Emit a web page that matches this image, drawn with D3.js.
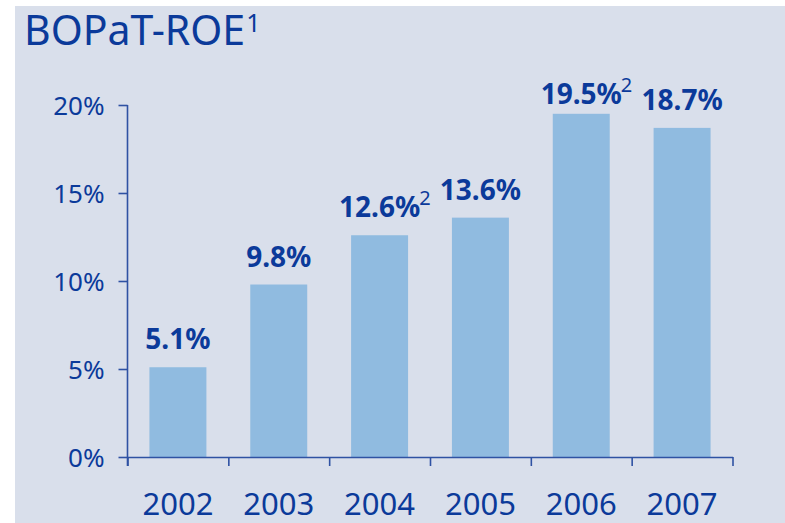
<!DOCTYPE html>
<html>
<head>
<meta charset="utf-8">
<script src="https://cdn.jsdelivr.net/npm/d3@7"></script>
<style>
  html, body { margin: 0; padding: 0; background: #fff; }
  svg { display: block; font-family: "Noto Sans", "Open Sans", sans-serif; }
</style>
</head>
<body>
<svg id="chart" width="785" height="523"></svg>
<script>
// chart data
const years = ["2002", "2003", "2004", "2005", "2006", "2007"];
const roe = [5.1, 9.8, 12.6, 13.6, 19.5, 18.7];
const footnotes = ["", "", "2", "", "2", ""];
const yTicks = [0, 5, 10, 15, 20];

const textColor = "#0b3a9a";
const axisColor = "#2f52a3";
const barColor = "#90bbe0";

const svg = d3.select("#chart");

// light blue-grey panel
svg.append("rect")
  .attr("x", 15).attr("y", 6)
  .attr("width", 770).attr("height", 517)
  .attr("fill", "#d9dfeb");

// title with footnote marker
const title = svg.append("text")
  .attr("x", 24).attr("y", 45)
  .attr("fill", textColor)
  .style("font-size", "41px");
title.append("tspan").text("BOPaT-ROE");
title.append("tspan").attr("dx", 1).attr("dy", -13).style("font-size", "25px").text("1");

// scales
const x = d3.scaleBand().domain(years).range([127.5, 732.5]).paddingInner(0.435).paddingOuter(0.2175);
const xEdge = d3.scaleLinear().domain([0, years.length]).range([127.5, 732.5]);
const y = d3.scaleLinear().domain([0, 20]).range([457, 105]);

// bars
svg.selectAll("rect.bar")
  .data(years)
  .join("rect")
  .attr("class", "bar")
  .attr("x", d => x(d))
  .attr("y", (d, i) => y(roe[i]))
  .attr("width", x.bandwidth())
  .attr("height", (d, i) => y(0) - y(roe[i]))
  .attr("fill", barColor);

// y axis
const yAxis = svg.append("g")
  .attr("transform", "translate(127.5,0)")
  .call(d3.axisLeft(y).tickValues(yTicks).tickSize(9).tickPadding(14).tickFormat(d => d + "%"));
yAxis.select(".domain").remove();
yAxis.selectAll("line").attr("stroke", axisColor).attr("stroke-width", 1.6);
yAxis.selectAll("text")
  .attr("fill", textColor)
  .style("font-size", "26px")
  .style("font-family", "'Noto Sans', sans-serif")
  .attr("dy", "0.36em");
yAxis.append("line")
  .attr("x1", 0).attr("x2", 0)
  .attr("y1", y(20)).attr("y2", y(0) + 9)
  .attr("stroke", axisColor).attr("stroke-width", 1.6);

// x axis with ticks between the bars
const xAxis = svg.append("g")
  .attr("transform", `translate(0,${y(0)})`)
  .call(d3.axisBottom(xEdge).tickValues(d3.range(years.length + 1)).tickSize(9).tickSizeOuter(0).tickFormat(""));
xAxis.select(".domain").attr("stroke", axisColor).attr("stroke-width", 1.6);
xAxis.selectAll("line").attr("stroke", axisColor).attr("stroke-width", 1.6);

// year labels
svg.selectAll("text.year")
  .data(years)
  .join("text")
  .attr("class", "year")
  .attr("x", d => x(d) + x.bandwidth() / 2)
  .attr("y", 515)
  .attr("text-anchor", "middle")
  .attr("fill", textColor)
  .style("font-size", "31px")
  .text(d => d);

// value labels above bars
const labels = svg.selectAll("text.value")
  .data(years)
  .join("text")
  .attr("class", "value")
  .attr("x", d => x(d) + x.bandwidth() / 2)
  .attr("y", (d, i) => Math.max(y(roe[i]) - 18, 104))
  .attr("fill", textColor)
  .style("font-size", "28px")
  .style("font-weight", "bold");

labels.each(function(d, i) {
  const t = d3.select(this);
  const main = t.append("tspan").text(roe[i].toFixed(1) + "%");
  // keep the main number centred on the bar, then hang the footnote after it
  const w = main.node().getComputedTextLength();
  t.attr("x", null);
  main.attr("x", x(d) + x.bandwidth() / 2 - w / 2);
  if (footnotes[i]) {
    t.append("tspan")
      .attr("dx", -1).attr("dy", -12)
      .style("font-size", "20px")
      .style("font-weight", "normal")
      .text(footnotes[i]);
  }
});
</script>
</body>
</html>
